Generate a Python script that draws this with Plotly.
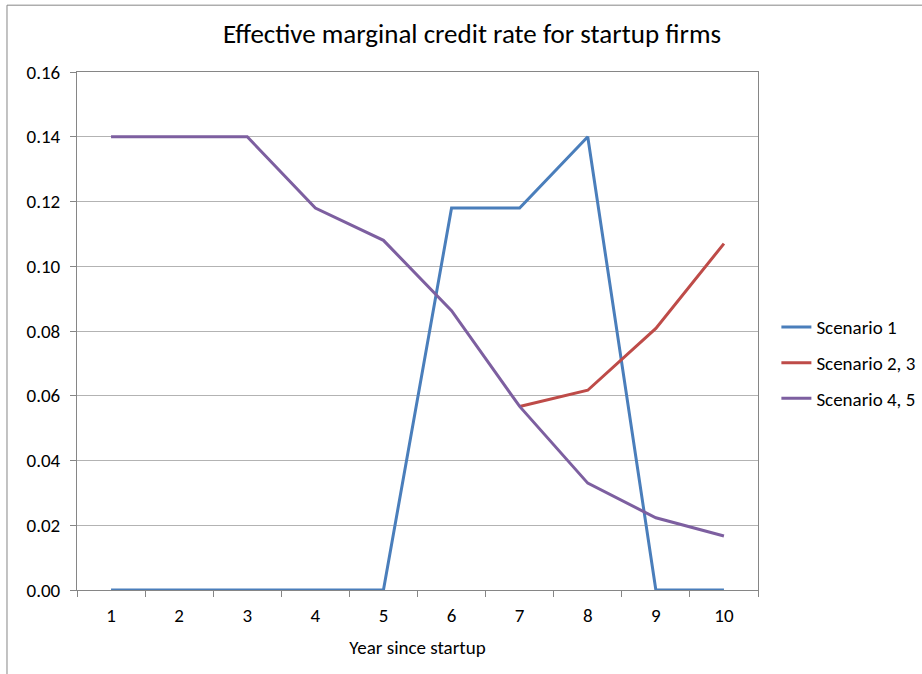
import plotly.graph_objects as go

years = [1, 2, 3, 4, 5, 6, 7, 8, 9, 10]
scenario_1 = [0.0, 0.0, 0.0, 0.0, 0.0, 0.118, 0.118, 0.140, 0.0, 0.0]
scenario_2_3 = [None, None, None, None, None, None, 0.0567, 0.0617, 0.0808, 0.1070]
scenario_4_5 = [0.140, 0.140, 0.140, 0.118, 0.108, 0.0863, 0.0567, 0.0330, 0.0223, 0.0167]
y_ticks = [0.0, 0.02, 0.04, 0.06, 0.08, 0.10, 0.12, 0.14, 0.16]

font = "Carlito, Calibri, Liberation Sans Narrow, Open Sans, sans-serif"

fig = go.Figure()
for name, vals, color in [("Scenario 1", scenario_1, "#4a7ebb"),
                          ("Scenario 2, 3", scenario_2_3, "#be4b48"),
                          ("Scenario 4, 5", scenario_4_5, "#7d5fa0")]:
    fig.add_trace(go.Scatter(x=years, y=vals, name=name, mode="lines", legendgroup=name,
                             line=dict(color=color, width=3)))

fig.update_xaxes(range=[0.5, 10.5], tickmode="array", tickvals=years, ticktext=[str(y) for y in years],
                 showgrid=False, showline=True, linecolor="#868686", linewidth=1, mirror=True,
                 ticks="", ticklabelstandoff=8,
                 title=dict(text="Year since startup", font=dict(size=19, color="black"), standoff=14),
                 tickfont=dict(size=19, color="black"), zeroline=False)
# category boundary tick marks
fig.update_layout(xaxis2=dict(overlaying="x", matches=None, range=[0.5, 10.5], tickmode="array",
                              tickvals=[i + 0.5 for i in range(11)], ticks="outside", ticklen=6,
                              tickcolor="#868686", showticklabels=False, showgrid=False, side="bottom"))
fig.add_trace(go.Scatter(x=[0.5], y=[None], xaxis="x2", showlegend=False, hoverinfo="skip"))

fig.update_yaxes(range=[0, 0.16], tickvals=y_ticks, tickformat=".2f", showgrid=True, gridcolor="#b3b3b3",
                 showline=True, linecolor="#868686", mirror=True, ticks="outside", ticklen=6,
                 ticklabelstandoff=6,
                 tickcolor="#868686", tickfont=dict(size=19, color="black"), zeroline=False)

fig.update_layout(
    width=922, height=674,
    margin=dict(l=77, r=164, t=72, b=84, autoexpand=False),
    paper_bgcolor="white", plot_bgcolor="white",
    font=dict(family=font, color="black"),
    title=dict(text="Effective marginal credit rate for startup firms", x=472 / 922, xanchor="center",
               y=1 - 34 / 674, yanchor="middle", font=dict(size=27, color="black")),
    legend=dict(x=1.027, xanchor="left", y=0.438, yanchor="middle", font=dict(size=19, color="black"),
                tracegroupgap=8, bgcolor="rgba(0,0,0,0)"),
    shapes=[dict(type="rect", xref="paper", yref="paper", x0=-0.1028, x1=1.3, y0=-0.2, y1=1.129,
                 line=dict(color="#868686", width=1), fillcolor="rgba(0,0,0,0)", layer="below")],
)

fig.write_html("out.html", config={"displayModeBar": False},
               post_script="document.body.style.margin='0px';")
